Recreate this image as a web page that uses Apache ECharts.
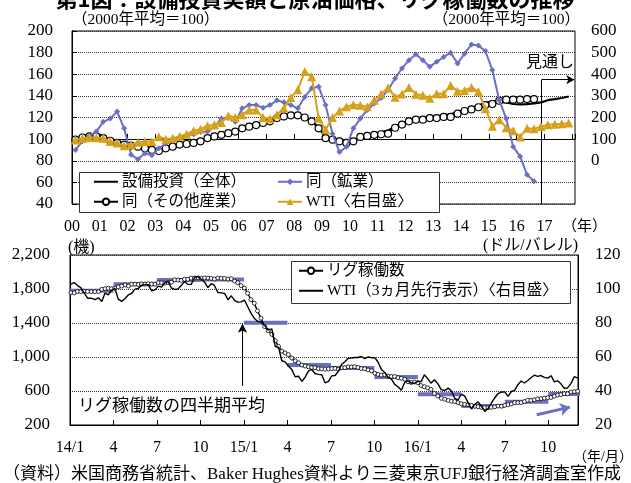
<!DOCTYPE html>
<html style="height: 100%">
<head>
    <meta charset="utf-8">
</head>
<body style="height: 100%; margin: 0; background-color: #fff;">
<div id="container" style="width: 631px; height: 483px"></div>
<script type="text/javascript" src="https://cdn.jsdelivr.net/npm/echarts@6.0.0/dist/echarts.min.js"></script>
<script type="text/javascript">
    // ---- 上段: 四半期 (2000年平均=100) ----
    var yearLabels = ['00', '01', '02', '03', '04', '05', '06', '07', '08', '09',
        '10', '11', '12', '13', '14', '15', '16', '17'];
    // 設備投資(全体) 2000Q1-2017Q4 (16Q4以降は見通し)
    var capexTotal = [99, 101, 102.5, 102.5, 101, 98.5, 96, 94.5, 93.5, 92.5,
        91, 90, 89.5, 91, 92.5, 94.5, 95.5, 96.5, 98, 100.5,
        102.5, 104.5, 106, 107.5, 110.5, 112, 114, 115.5, 117, 119.5,
        121, 122, 122, 120.5, 117, 110.5, 102.5, 99, 97, 96,
        98, 101.5, 103.5, 105, 106.5, 108, 111.5, 114.5, 117, 118.5,
        119.5, 120.5, 121, 122, 123, 125, 127, 129, 131, 133.5,
        135, 134.5, 134, 132.5, 132, 132.3, 133, 134, 136, 137,
        138, 139.4];
    // 同(鉱業) 2000Q1-2016Q3
    var capexMining = [90, 98, 103, 107, 116, 119, 125.5, 110, 85.5, 81.5,
        87, 85, 91.5, 96, 98, 101.5, 103.5, 104.5, 106.5, 107,
        111.5, 119, 119.5, 116, 128.5, 131.5, 131.5, 129, 131.5, 136,
        134, 131.5, 128.5, 139, 147, 148.5, 131.5, 105, 88, 93,
        110, 119, 127, 133, 138, 145.5, 156, 165.5, 173, 178.5,
        173, 167, 171.5, 176, 180, 170, 179, 187.5, 186.5, 181.5,
        164, 136, 119, 93, 84, 67, 61];
    // 同(その他産業) 2000Q1-2016Q3
    var capexOther = [99.5, 101.5, 102.5, 102.5, 101, 98.5, 96.5, 95, 94, 93,
        91.5, 90, 89, 91.5, 93, 95, 95.5, 96.5, 98, 101,
        102.5, 104, 105.5, 107, 110, 111.5, 113, 115, 116.5, 119.5,
        121, 122, 122, 120, 116.5, 110, 101, 99.5, 98, 96.5,
        98, 102, 103, 104, 104.5, 105, 110.5, 113.5, 116.5, 118,
        118, 119.5, 119.5, 120.5, 120.5, 123.5, 126, 127.5, 129.5, 131.5,
        132.5, 135.5, 136.5, 136.5, 136.5, 137, 137];
    // WTI 〈右目盛〉 2000Q1-2017Q4
    var wtiIndex = [96, 103, 107, 106, 104, 89, 82, 69, 74, 85,
        89, 89, 111, 100, 104, 113, 123, 139, 146, 162,
        166, 177, 208, 200, 213, 235, 235, 200, 194, 213,
        243, 293, 328, 413, 389, 197, 143, 200, 230, 250,
        259, 257, 250, 280, 309, 337, 294, 309, 339, 308,
        303, 289, 310, 310, 348, 321, 325, 339, 320, 241,
        160, 190, 153, 139, 110, 150, 148, 158, 166, 169,
        171, 174];
    var outlookFrom = 67.6; // 見通し区間の境 (四半期位置)

    // ---- 下段: 週次 (2014/1/3 から毎週金曜) ----
    var monthLabels = ['14/1', '4', '7', '10', '15/1', '4', '7', '10', '16/1', '4', '7', '10'];
    var rigs2014 = [1757, 1754, 1771, 1769, 1774, 1771, 1769, 1769, 1769, 1796,
        1803, 1809, 1803, 1809, 1825, 1835, 1848, 1835, 1857, 1857,
        1854, 1859, 1857, 1863, 1859, 1857, 1875, 1874, 1870, 1876,
        1880, 1908, 1905, 1901, 1914, 1914, 1928, 1929, 1931, 1925,
        1930, 1929, 1925, 1918, 1929, 1925, 1924, 1917, 1920, 1893,
        1875, 1840];
    var rigs2015 = [1811, 1750, 1676, 1633, 1543, 1456, 1358, 1310, 1267, 1192,
        1125, 1069, 1048, 1028, 988, 954, 932, 905, 894, 885,
        875, 875, 862, 859, 857, 859, 863, 866, 857, 876,
        874, 884, 883, 885, 877, 864, 862, 848, 838, 809,
        795, 787, 791, 775, 771, 771, 757, 750, 737, 709,
        700, 706];
    var rigs2016 = [698, 664, 650, 637, 619, 571, 541, 514, 502, 489,
        480, 476, 464, 450, 443, 440, 431, 420, 415, 408,
        406, 404, 408, 414, 423, 421, 431, 440, 447, 462,
        463, 464, 476, 491, 489, 497, 508, 510, 516, 522,
        524, 539, 553, 557, 569, 568, 588, 593, 597];
    // WTI (3ヵ月先行表示), 表示日付に合わせた値 ドル/バレル
    var wti2014 = [102.9, 103.8, 102, 100.8, 97.9, 94.6, 94.6, 93.8, 94.8, 92.7,
        97.6, 96.6, 99.3, 100.3, 94, 92.7, 94.4, 96.6, 97.5, 99.9,
        100.3, 102.2, 102.6, 102.6, 98.9, 99.5, 101.7, 101.1, 103.7, 104.3,
        100.6, 99.8, 100, 102, 104.4, 102.7, 102.7, 106.9, 107.3, 105.7,
        104, 100.8, 103.1, 102.1, 97.9, 97.7, 97.4, 93.7, 96, 93.3,
        92.3, 92.4];
    var wti2015 = [93.5, 89.7, 85.8, 82.8, 81, 80.5, 78.7, 75.8, 76.5, 66.2,
        65.8, 57.8, 57.1, 54.7, 52.7, 48.4, 48.7, 45.6, 48.2, 51.7,
        52.8, 50.3, 49.8, 49.6, 44.8, 45.7, 48.9, 49.1, 51.6, 55.7,
        57.2, 59.2, 59.4, 59.7, 59.7, 60.3, 59.1, 60, 59.6, 59.6,
        56.9, 52.7, 50.9, 48.1, 47.1, 43.9, 42.5, 40.5, 45.2, 46,
        44.6, 44.7];
    var wti2016 = [45.7, 45.5, 49.6, 47.3, 44.6, 46.6, 44.3, 40.7, 40.4, 41.7,
        40, 35.6, 34.7, 38.1, 37, 33.2, 29.4, 32.2, 33.6, 30.9,
        28, 29.6, 32.8, 35.9, 38.5, 39.4, 39.5, 36.8, 39.7, 40.4,
        43.7, 45.9, 44.7, 46.2, 47.8, 49.3, 48.6, 49.1, 48, 47.6,
        49, 45.4, 46, 44.2, 41.6, 41.8, 44.5, 48.5, 47.6];
    // リグ稼働数の四半期平均 14Q1-16Q4
    var rigQuarterAvg = [1780, 1855, 1905, 1912, 1403, 905, 870, 765, 562, 424, 475, 565];

    var rigs = rigs2014.concat(rigs2015, rigs2016);
    var wtiLead = wti2014.concat(wti2015, wti2016);

    var weekStart = Date.UTC(2014, 0, 3);
    function monthPos(k) {
        var d = new Date(weekStart + k * 7 * 86400000);
        var y = d.getUTCFullYear(), m = d.getUTCMonth(), day = d.getUTCDate();
        var dim = new Date(Date.UTC(y, m + 1, 0)).getUTCDate();
        return (y - 2014) * 12 + m + (day - 1) / dim;
    }
    function quarterly(arr) {
        return arr.map(function (v, i) { return [i + 0.5, v]; });
    }
    function weekly(arr) {
        return arr.map(function (v, k) { return [monthPos(k), v]; });
    }
    var qSegments = [];
    rigQuarterAvg.forEach(function (v, q) {
        qSegments.push([q * 3, v], [q * 3 + 3, v], [q * 3 + 3, '-']);
    });

    var serif = "'Liberation Serif', 'Noto Sans CJK JP'";
    var gothic = "'Noto Sans CJK JP'";
    var blue = '#6b6fc4';
    var gold = '#d6a11a';
    var dotted = {lineStyle: {type: 'dotted', color: '#333', width: 1}};
    var labelStyle = {color: '#000', fontFamily: serif, fontSize: 17};

    var chart = echarts.init(document.getElementById('container'));
    var option = {
        animation: false,
        backgroundColor: '#fff',
        grid: [
            {left: 72, top: 31, width: 503, height: 173, show: true, borderColor: '#000', borderWidth: 1},
            {left: 70, top: 255, width: 508, height: 170, show: true, borderColor: '#000', borderWidth: 1}
        ],
        xAxis: [
            {
                gridIndex: 0, type: 'value', min: 0, max: 72.4, interval: 4,
                axisLine: {show: false}, axisTick: {show: false}, splitLine: {show: false},
                axisLabel: {margin: 15, color: '#000', fontFamily: serif, fontSize: 16,
                    formatter: function (v) { return yearLabels[v / 4] || ''; }}
            },
            {
                gridIndex: 0, type: 'value', min: 0, max: 72.4, interval: 4,
                position: 'bottom', offset: -65,
                axisLine: {lineStyle: {color: '#000', width: 1}},
                axisTick: {inside: true, length: 5, lineStyle: {color: '#000'}},
                axisLabel: {show: false}, splitLine: {show: false}
            },
            {
                gridIndex: 1, type: 'value', min: 0, max: 35.05, interval: 3,
                axisLine: {lineStyle: {color: '#000'}},
                axisTick: {inside: true, length: 5, lineStyle: {color: '#000'}},
                splitLine: {show: false},
                axisLabel: {margin: 15, color: '#000', fontFamily: serif, fontSize: 16,
                    formatter: function (v) { return monthLabels[v / 3] || ''; }}
            }
        ],
        yAxis: [
            {
                gridIndex: 0, type: 'value', min: 40, max: 200, interval: 20,
                axisLine: {show: true, lineStyle: {color: '#000'}},
                axisTick: {show: true, inside: true, length: 5, lineStyle: {color: '#000'}},
                splitLine: dotted,
                axisLabel: Object.assign({margin: 19}, labelStyle)
            },
            {
                gridIndex: 0, type: 'value', position: 'right', min: -200, max: 600, interval: 100,
                axisLine: {show: true, lineStyle: {color: '#000'}}, axisTick: {show: false},
                splitLine: {show: false},
                axisLabel: Object.assign({margin: 16,
                    formatter: function (v) { return v < 0 ? '' : v; }}, labelStyle)
            },
            {
                gridIndex: 1, type: 'value', min: 200, max: 2200, interval: 400,
                axisLine: {show: true, lineStyle: {color: '#000'}}, axisTick: {show: false},
                splitLine: dotted,
                axisLabel: Object.assign({margin: 20,
                    formatter: function (v) { return echarts.format.addCommas(v); }}, labelStyle)
            },
            {
                gridIndex: 1, type: 'value', position: 'right', min: 20, max: 120, interval: 20,
                axisLine: {show: true, lineStyle: {color: '#000'}}, axisTick: {show: false},
                splitLine: {show: false},
                axisLabel: Object.assign({margin: 17}, labelStyle)
            }
        ],
        legend: [
            {data: [{name: '設備投資（全体）', itemStyle: {opacity: 0}}, '同（鉱業）'], left: 93, top: 174},
            {data: ['同（その他産業）', 'WTI〈右目盛〉'], left: 93, top: 194},
            {data: ['リグ稼働数'], left: 298, top: 263},
            {data: [{name: 'WTI（3ヵ月先行表示）〈右目盛〉', itemStyle: {opacity: 0}}], left: 298, top: 283}
        ].map(function (l) {
            return Object.assign({
                z: 20, padding: 0, itemWidth: 24, itemHeight: 8, itemGap: 31,
                textStyle: {fontSize: 15.5, fontFamily: serif, color: '#000', padding: [0, 0, 0, -1]}
            }, l);
        }),
        graphic: [
            {type: 'rect', z: 10, shape: {x: 79.5, y: 172.5, width: 360, height: 40},
                style: {fill: '#fff', stroke: '#333', lineWidth: 1}},
            {type: 'rect', z: 10, shape: {x: 291.5, y: 261.5, width: 279, height: 42},
                style: {fill: '#fff', stroke: '#333', lineWidth: 1}},
            {type: 'text', x: 315, y: -1, style: {text: '第1図：設備投資実額と原油価格、リグ稼働数の推移',
                fontSize: 22, fontWeight: 'bold', fontFamily: gothic, fill: '#000', align: 'center', verticalAlign: 'middle'}},
            {type: 'text', x: 72, y: 20, style: {text: '（2000年平均＝100）', fontSize: 15.5,
                fontFamily: serif, fill: '#000', align: 'left', verticalAlign: 'middle'}},
            {type: 'text', x: 580, y: 20, style: {text: '（2000年平均＝100）', fontSize: 15.5,
                fontFamily: serif, fill: '#000', align: 'right', verticalAlign: 'middle'}},
            {type: 'text', x: 562, y: 227, style: {text: '（年）', fontSize: 15,
                fontFamily: serif, fill: '#000', align: 'left', verticalAlign: 'middle'}},
            {type: 'text', x: 526, y: 61, style: {text: '見通し', fontSize: 16,
                fontFamily: gothic, fill: '#000', align: 'left', verticalAlign: 'middle'}},
            {type: 'text', x: 68, y: 248, style: {text: '(機)', fontSize: 16,
                fontFamily: serif, fill: '#000', align: 'left', verticalAlign: 'middle'}},
            {type: 'text', x: 578, y: 246, style: {text: '(ドル/バレル)', fontSize: 16,
                fontFamily: serif, fill: '#000', align: 'right', verticalAlign: 'middle'}},
            {type: 'text', x: 78, y: 405, style: {text: 'リグ稼働数の四半期平均', fontSize: 17,
                fontFamily: gothic, fill: '#000', align: 'left', verticalAlign: 'middle'}},
            {type: 'text', x: 573, y: 457, style: {text: '（年/月）', fontSize: 14,
                fontFamily: serif, fill: '#000', align: 'left', verticalAlign: 'middle'}},
            {type: 'text', x: 3, y: 475, style: {text: '（資料）米国商務省統計、Baker Hughes資料より三菱東京UFJ銀行経済調査室作成',
                fontSize: 17, fontFamily: serif, fill: '#000', align: 'left', verticalAlign: 'middle'}}
        ],
        series: [
            {
                name: '設備投資（全体）', type: 'line', xAxisIndex: 0, yAxisIndex: 0, z: 2,
                data: quarterly(capexTotal), symbol: 'none',
                lineStyle: {color: '#000', width: 2.2}, itemStyle: {color: '#000'},
                markLine: {
                    silent: true, symbol: ['none', 'none'], label: {show: false},
                    lineStyle: {color: '#000', width: 1, type: 'solid'},
                    data: [
                        [{coord: [outlookFrom, 40]}, {coord: [outlookFrom, 155]}],
                        [{coord: [outlookFrom, 155]}, {coord: [72.3, 155], symbol: 'arrow', symbolSize: [7, 8]}]
                    ]
                }
            },
            {
                name: '同（その他産業）', type: 'line', xAxisIndex: 0, yAxisIndex: 0, z: 3,
                data: quarterly(capexOther), symbol: 'circle', symbolSize: 7,
                lineStyle: {color: '#000', width: 1.5},
                itemStyle: {color: '#fff', borderColor: '#000', borderWidth: 1.2}
            },
            {
                name: '同（鉱業）', type: 'line', xAxisIndex: 0, yAxisIndex: 0, z: 4,
                data: quarterly(capexMining), symbol: 'diamond', symbolSize: 6,
                lineStyle: {color: blue, width: 2}, itemStyle: {color: blue}
            },
            {
                name: 'WTI〈右目盛〉', type: 'line', xAxisIndex: 0, yAxisIndex: 1, z: 5,
                data: quarterly(wtiIndex), symbol: 'triangle', symbolSize: 9,
                lineStyle: {color: gold, width: 2}, itemStyle: {color: gold}
            },
            {
                name: 'リグ稼働数', type: 'line', xAxisIndex: 2, yAxisIndex: 2, z: 3,
                data: weekly(rigs), symbol: 'circle', symbolSize: 4,
                lineStyle: {color: '#000', width: 1.4},
                itemStyle: {color: '#fff', borderColor: '#000', borderWidth: 0.8},
                markLine: {
                    silent: true, symbol: ['none', 'arrow'], symbolSize: [7, 9], label: {show: false},
                    lineStyle: {color: '#000', width: 1, type: 'solid'},
                    data: [[{coord: [11.9, 660]}, {coord: [11.9, 1390]}]]
                }
            },
            {
                name: 'WTI（3ヵ月先行表示）〈右目盛〉', type: 'line', xAxisIndex: 2, yAxisIndex: 3, z: 4,
                data: weekly(wtiLead), symbol: 'none',
                lineStyle: {color: '#000', width: 1.4}, itemStyle: {color: '#000'}
            },
            {
                name: '四半期平均', type: 'line', xAxisIndex: 2, yAxisIndex: 2, z: 2,
                data: qSegments, symbol: 'none', connectNulls: false,
                lineStyle: {color: blue, width: 4, cap: 'butt'},
                markLine: {
                    silent: true, symbol: ['none', 'arrow'], symbolSize: [10, 10], label: {show: false},
                    lineStyle: {color: blue, width: 3, type: 'solid'},
                    data: [[{coord: [32.2, 320]}, {coord: [34.5, 410]}]]
                }
            }
        ]
    };
    chart.setOption(option);
</script>
</body>
</html>
